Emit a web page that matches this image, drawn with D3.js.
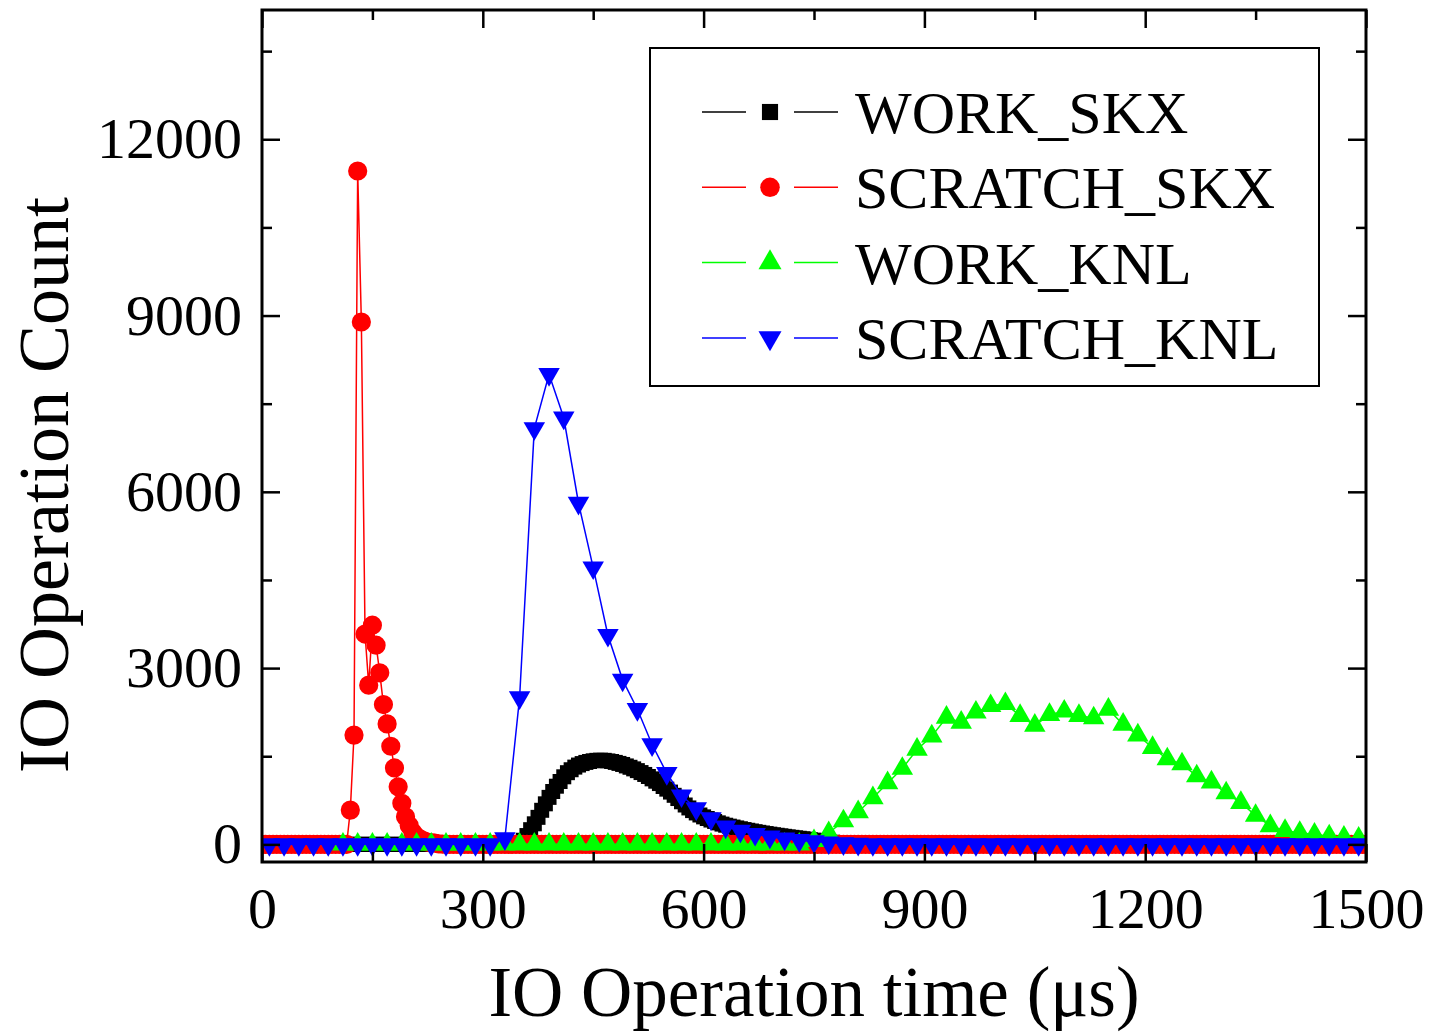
<!DOCTYPE html>
<html>
<head>
<meta charset="utf-8">
<script src="https://cdn.jsdelivr.net/npm/d3@7"></script>
<style>
  body { margin: 0; background: #fff; }
  svg { display: block; }
</style>
</head>
<body>
<div id="chart"></div>
<script>
/********************************************************
 ********************* Data *****************************
 ********************************************************/
// histogram of IO operation times, counts per bin.
// bins that are not listed hold 0 operations.
var seriesNames = ["WORK_SKX", "SCRATCH_SKX", "WORK_KNL", "SCRATCH_KNL"];
var seriesColors = ["#000000", "#ff0000", "#00ff00", "#0000ff"];

// SKX runs use 5 us bins, KNL runs 20 us bins
var workSkxBins = [0, 1500, 5];
var workSkxFirst = 355;
var workSkxCounts = [70, 150, 250, 350, 460, 580, 690, 800, 900, 990,
  1070, 1150, 1220, 1270, 1315, 1350, 1375, 1395, 1410, 1422,
  1430, 1433, 1430, 1420, 1410, 1395, 1378, 1360, 1335, 1312,
  1285, 1255, 1222, 1190, 1155, 1115, 1075, 1035, 985, 940,
  890, 835, 780, 725, 670, 620, 575, 535, 500, 468,
  440, 414, 390, 366, 345, 326, 310, 295, 280, 266,
  252, 240, 228, 216, 205, 194, 184, 174, 164, 155,
  146, 137, 128, 120, 112, 104, 96, 88, 80, 72,
  64, 57, 50, 43, 37, 31, 25, 19, 13, 8];

var scratchSkxBins = [0, 1500, 5];
var scratchSkxFirst = 120;
var scratchSkxCounts = [583, 1860, 11460, 8890, 3580, 2710, 3730, 3390, 2920, 2380,
  2050, 1670, 1300, 980, 700, 470, 320, 200, 130, 90,
  60, 40, 30, 20, 10, 5];

var workKnlBins = [110, 1490, 20];
var workKnlFirst = 750;
var workKnlCounts = [60, 194, 396, 552, 790, 1045, 1290, 1615, 1841, 2159,
  2074, 2247, 2358, 2392, 2189, 2023, 2206, 2264, 2189, 2149,
  2295, 2040, 1858, 1644, 1452, 1365, 1161, 1057, 872, 709,
  490, 314, 233, 200, 170, 140, 120, 100];

var scratchKnlBins = [10, 1490, 20];
var scratchKnlFirst = 330;
var scratchKnlCounts = [100, 2500, 7080, 8000, 7260, 5810, 4710, 3560, 2800, 2300,
  1700, 1210, 830, 610, 440, 300, 230, 175, 130, 95,
  70, 50, 30, 15, 5];

var xTicks = [0, 300, 600, 900, 1200, 1500];
var yTicks = [0, 3000, 6000, 9000, 12000];

function toPoints(bins, first, counts) {
  var pts = [];
  for (var t = bins[0]; t <= bins[1]; t += bins[2]) {
    var k = Math.round((t - first) / bins[2]);
    var c = (k >= 0 && k < counts.length) ? counts[k] : 0;
    pts.push({ t: t, count: c });
  }
  return pts;
}

var series = [
  toPoints(workSkxBins, workSkxFirst, workSkxCounts),
  toPoints(scratchSkxBins, scratchSkxFirst, scratchSkxCounts),
  toPoints(workKnlBins, workKnlFirst, workKnlCounts),
  toPoints(scratchKnlBins, scratchKnlFirst, scratchKnlCounts)
];

/********************************************************
 ********************* Chart ****************************
 ********************************************************/
var W = 1430, H = 1034;
var plotL = 262, plotR = 1366, plotT = 10, plotB = 862;
var font = "'Liberation Serif', 'Times New Roman', serif";

var x = d3.scaleLinear().domain([0, 1500]).range([plotL, plotR]);
var y = d3.scaleLinear().domain([-300, 14200]).range([plotB, plotT]);

var svg = d3.select("#chart").append("svg")
    .attr("width", W)
    .attr("height", H);

svg.append("defs").append("clipPath")
    .attr("id", "plotclip")
  .append("rect")
    .attr("x", plotL).attr("y", plotT)
    .attr("width", plotR - plotL).attr("height", plotB - plotT);

// markers: square, circle, up triangle, down triangle
var symbolTypes = [d3.symbolSquare, d3.symbolCircle, d3.symbolTriangle, d3.symbolTriangle];
var symbolSizes = [225, 290, 200, 200];
var symbolRotate = [0, 0, 0, 180];

var plot = svg.append("g").attr("clip-path", "url(#plotclip)");

var line = d3.line()
    .x(function(d) { return x(d.t); })
    .y(function(d) { return y(d.count); });

series.forEach(function(pts, i) {
  var g = plot.append("g").attr("class", "series");
  g.append("path")
      .datum(pts)
      .attr("d", line)
      .attr("fill", "none")
      .attr("stroke", seriesColors[i])
      .attr("stroke-width", 1.5);
  var sym = d3.symbol().type(symbolTypes[i]).size(symbolSizes[i]);
  g.selectAll("path.mark")
      .data(pts)
      .enter()
      .append("path")
      .attr("class", "mark")
      .attr("d", sym)
      .attr("fill", seriesColors[i])
      .attr("transform", function(d) {
        return "translate(" + x(d.t) + "," + y(d.count) + ") rotate(" + symbolRotate[i] + ")";
      });
});

// axes, ticks pointing inward, minor ticks every half step
function styleAxis(g) {
  g.select(".domain").remove();
  g.selectAll("line").attr("stroke", "#000").attr("stroke-width", 2.5);
  g.selectAll("text")
      .attr("fill", "#000")
      .style("font-family", font)
      .style("font-size", "58px");
}

var xMinor = [150, 450, 750, 1050, 1350];
var yMinor = [1500, 4500, 7500, 10500, 13500];

svg.append("g")
    .attr("transform", "translate(0," + plotB + ")")
    .call(d3.axisBottom(x).tickValues(xTicks).tickSize(-18).tickPadding(25).tickFormat(d3.format("d")))
    .call(styleAxis);
svg.append("g")
    .attr("transform", "translate(0," + plotB + ")")
    .call(d3.axisBottom(x).tickValues(xMinor).tickSize(-10).tickFormat(""))
    .call(styleAxis);
svg.append("g")
    .attr("transform", "translate(0," + plotT + ")")
    .call(d3.axisTop(x).tickValues(xTicks).tickSize(-18).tickFormat(""))
    .call(styleAxis);
svg.append("g")
    .attr("transform", "translate(0," + plotT + ")")
    .call(d3.axisTop(x).tickValues(xMinor).tickSize(-10).tickFormat(""))
    .call(styleAxis);

svg.append("g")
    .attr("transform", "translate(" + plotL + ",0)")
    .call(d3.axisLeft(y).tickValues(yTicks).tickSize(-18).tickPadding(20).tickFormat(d3.format("d")))
    .call(styleAxis);
svg.append("g")
    .attr("transform", "translate(" + plotL + ",0)")
    .call(d3.axisLeft(y).tickValues(yMinor).tickSize(-10).tickFormat(""))
    .call(styleAxis);
svg.append("g")
    .attr("transform", "translate(" + plotR + ",0)")
    .call(d3.axisRight(y).tickValues(yTicks).tickSize(-18).tickFormat(""))
    .call(styleAxis);
svg.append("g")
    .attr("transform", "translate(" + plotR + ",0)")
    .call(d3.axisRight(y).tickValues(yMinor).tickSize(-10).tickFormat(""))
    .call(styleAxis);

// frame
svg.append("rect")
    .attr("x", plotL).attr("y", plotT)
    .attr("width", plotR - plotL).attr("height", plotB - plotT)
    .attr("fill", "none")
    .attr("stroke", "#000")
    .attr("stroke-width", 3);

// axis titles
svg.append("text")
    .attr("x", 814).attr("y", 1016)
    .attr("text-anchor", "middle")
    .style("font-family", font)
    .style("font-size", "71px")
    .text("IO Operation time (\u03bcs)");

svg.append("text")
    .attr("transform", "translate(68,485) rotate(-90)")
    .attr("text-anchor", "middle")
    .style("font-family", font)
    .style("font-size", "72px")
    .text("IO Operation Count");

/********************************************************
 ********************* Legend ***************************
 ********************************************************/
var legendSizes = [260, 300, 230, 230];
var legend = svg.append("g");
legend.append("rect")
    .attr("x", 650).attr("y", 48)
    .attr("width", 669).attr("height", 338)
    .attr("fill", "#fff")
    .attr("stroke", "#000")
    .attr("stroke-width", 2);

seriesNames.forEach(function(name, i) {
  var ry = 112 + i * 75.3;
  var row = legend.append("g");
  row.append("line")
      .attr("x1", 702).attr("x2", 746).attr("y1", ry).attr("y2", ry)
      .attr("stroke", seriesColors[i]).attr("stroke-width", 1.5);
  row.append("line")
      .attr("x1", 794).attr("x2", 838).attr("y1", ry).attr("y2", ry)
      .attr("stroke", seriesColors[i]).attr("stroke-width", 1.5);
  row.append("path")
      .attr("d", d3.symbol().type(symbolTypes[i]).size(legendSizes[i]))
      .attr("fill", seriesColors[i])
      .attr("transform", "translate(770," + ry + ") rotate(" + symbolRotate[i] + ")");
  row.append("text")
      .attr("x", 855).attr("y", ry + 21)
      .style("font-family", font)
      .style("font-size", "60px")
      .text(name);
});
</script>
</body>
</html>
